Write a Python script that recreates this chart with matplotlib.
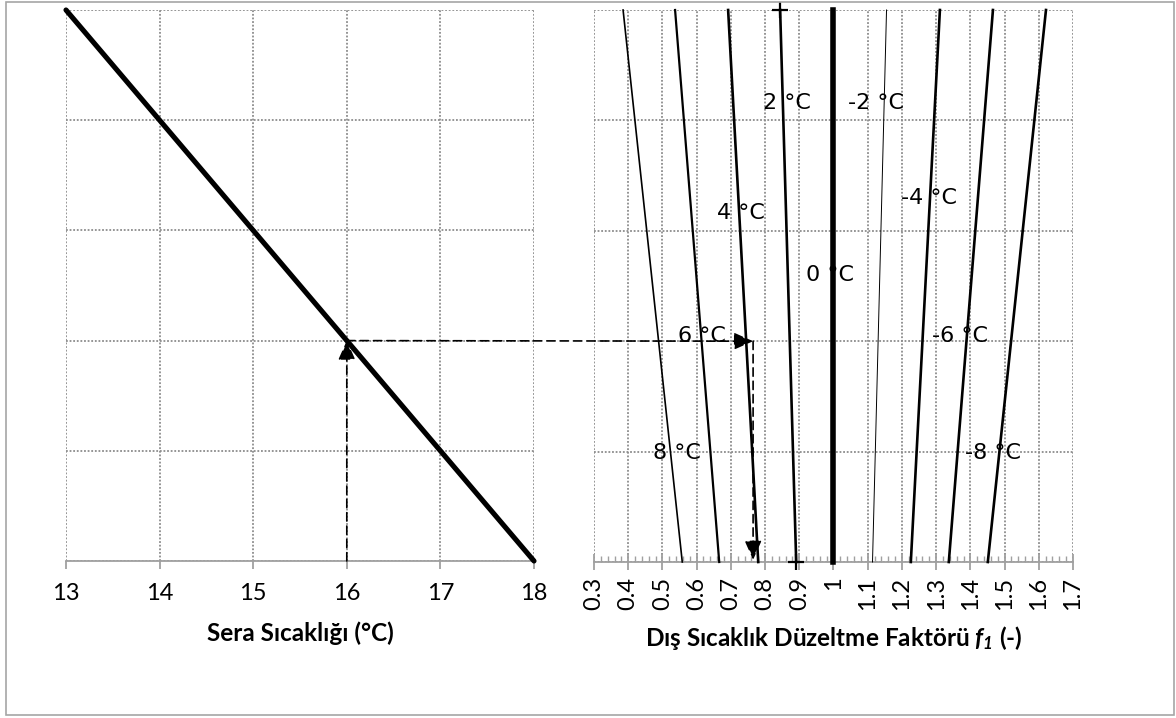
import numpy as np
import matplotlib
matplotlib.use("Agg")
import matplotlib.pyplot as plt
from matplotlib.patches import ConnectionPatch, Rectangle

plt.rcParams["font.family"] = ["Lato", "DejaVu Sans"]
plt.rcParams["mathtext.fontset"] = "custom"
plt.rcParams["mathtext.bfit"] = "Lato:bold:italic"
plt.rcParams["mathtext.it"] = "Lato:italic"
plt.rcParams["mathtext.rm"] = "Lato"

# ---------------- data ----------------
sera_temp = [13, 18]          # greenhouse temperature (oC)
sera_level = [5, 0]           # chart level (no labels on y)
sera_ticks = [13, 14, 15, 16, 17, 18]

dis_labels = ["8 °C", "6 °C", "4 °C", "2 °C", "0 °C", "-2 °C", "-4 °C", "-6 °C", "-8 °C"]
f1_bottom = [0.558, 0.666, 0.780, 0.891, 1.0, 1.114, 1.226, 1.337, 1.451]
f1_top = [0.385, 0.537, 0.692, 0.844, 1.0, 1.155, 1.311, 1.466, 1.621]
line_widths = [1.2, 1.6, 1.9, 1.9, 4.0, 0.7, 1.9, 1.9, 1.9]
label_pos = [(0.472, 0.99), (0.546, 2.05), (0.660, 3.16), (0.794, 4.16), (0.920, 2.60),
             (1.042, 4.16), (1.197, 3.30), (1.288, 2.05), (1.384, 0.99)]

f1_ticks = [0.3, 0.4, 0.5, 0.6, 0.7, 0.8, 0.9, 1.0, 1.1, 1.2, 1.3, 1.4, 1.5, 1.6, 1.7]
f1_ticklabels = ["0.3", "0.4", "0.5", "0.6", "0.7", "0.8", "0.9", "1",
                 "1.1", "1.2", "1.3", "1.4", "1.5", "1.6", "1.7"]

sera_read = 16.0
f1_read = 0.765

# ---------------- figure ----------------
fig = plt.figure(figsize=(11.76, 7.18), dpi=100)
fig.add_artist(Rectangle((6 / 1176, 1 - 715 / 718), 1168 / 1176, 713 / 718,
                         transform=fig.transFigure, fill=False,
                         edgecolor="#a6a6a6", linewidth=1.2))

ax1 = fig.add_axes([66 / 1176, 1 - 561 / 718, 468 / 1176, 551 / 718])
ax2 = fig.add_axes([594 / 1176, 1 - 562 / 718, 479 / 1176, 552 / 718])

grid_kw = dict(color="#8c8c8c", linestyle=(0, (1, 1)), linewidth=1.3)
for ax in (ax1, ax2):
    ax.set_ylim(0, 5)
    ax.set_yticks(range(6))
    ax.tick_params(axis="y", length=0, labelleft=False)
    for s in ("left", "right", "top"):
        ax.spines[s].set_visible(False)
    ax.spines["bottom"].set_color("#a0a0a0")
    ax.spines["bottom"].set_linewidth(1.3)
    ax.grid(True, **grid_kw)
    ax.set_axisbelow(True)

# left panel
ax1.set_xlim(13, 18)
ax1.set_xticks(sera_ticks)
ax1.tick_params(axis="x", direction="out", length=6, width=1.3, color="#a0a0a0",
                labelsize=17, pad=10)
ax1.plot(sera_temp, sera_level, color="black", linewidth=3.7, solid_capstyle="round",
         clip_on=False, zorder=3)

# right panel
ax2.set_xlim(0.3, 1.7)
ax2.set_xticks(f1_ticks)
ax2.set_xticklabels(f1_ticklabels, rotation=90)
ax2.set_xticks(np.arange(0.3, 1.7001, 0.02), minor=True)
ax2.tick_params(axis="x", which="major", direction="inout", length=11, width=1.3,
                color="#a0a0a0", labelsize=17, pad=5)
ax2.tick_params(axis="x", which="minor", direction="in", length=4, width=1.0,
                color="#a0a0a0")
ax2.grid(False, which="minor")

for i, lab in enumerate(dis_labels):
    mk = "+" if lab == "2 °C" else None
    ax2.plot([f1_bottom[i], f1_top[i]], [0, 5], color="black", linewidth=line_widths[i],
             marker=mk, markersize=11, markeredgewidth=1.6, clip_on=False, zorder=3)
    ax2.text(label_pos[i][0], label_pos[i][1], lab, ha="left", va="center",
             fontsize=16, family="DejaVu Sans", zorder=4)

# reading arrows
level_read = np.interp(sera_read, sera_temp, sera_level)
arrow_kw = dict(arrowstyle="-|>,head_length=0.45,head_width=0.2", linestyle=(0, (5, 3)),
                color="black", lw=1.2, mutation_scale=26, shrinkA=0, shrinkB=0)
ax1.annotate("", xy=(sera_read, level_read), xytext=(sera_read, 0), arrowprops=arrow_kw,
             annotation_clip=False)
con = ConnectionPatch(xyA=(sera_read, level_read), coordsA=ax1.transData,
                      xyB=(f1_read, level_read), coordsB=ax2.transData, **arrow_kw)
con.set_zorder(5)
fig.add_artist(con)
ax2.annotate("", xy=(f1_read, 0.02), xytext=(f1_read, level_read), arrowprops=arrow_kw,
             annotation_clip=False)

# axis titles
fig.text(300 / 1176, 1 - 633 / 718, "Sera Sıcaklığı (°C)", ha="center", va="center",
         fontsize=17.5, fontweight="bold")
fig.text(834 / 1176, 1 - 638 / 718,
         r"Dış Sıcaklık Düzeltme Faktörü $\mathbfit{f}_{\mathbfit{1}}$ (-)",
         ha="center", va="center", fontsize=17.5, fontweight="bold")

fig.savefig("out.png", dpi=100)
